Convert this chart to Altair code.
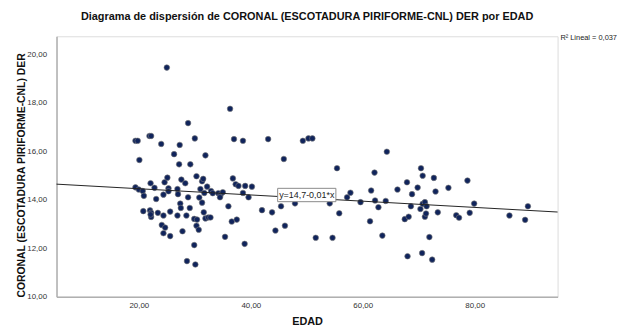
import altair as alt
import pandas as pd

# ---- data ----
edad = [
    25.0, 36.3, 28.8, 19.4, 19.8, 21.9, 22.2, 24.0, 27.3, 30.0, 37.0, 26.3, 31.9, 20.1, 27.2, 29.2,
    19.4, 20.0, 20.7, 20.9, 22.1, 22.8, 23.1, 24.4, 24.6, 25.1, 25.3, 25.3, 26.9, 27.0, 27.6, 28.3,
    27.4, 27.5, 28.8, 29.1, 30.3, 31.3, 31.5, 31.0, 31.7, 30.8, 31.3, 32.2, 32.9, 33.2, 34.2, 34.6,
    35.0, 34.5, 36.8, 37.3, 36.0, 36.6, 37.5, 20.8, 22.0, 22.2, 22.2, 22.1, 23.4, 24.4, 25.6, 26.9,
    28.5, 29.9, 30.4, 31.6, 31.9, 32.4, 32.8, 24.1, 24.7, 24.4, 25.6, 27.8, 30.3, 30.7, 35.4, 29.9,
    28.6, 30.1,
    38.6, 43.1, 49.3, 50.3, 51.0, 64.3, 45.9, 55.4, 62.1, 70.4, 70.7, 67.9, 37.8, 39.0, 40.2, 38.6,
    39.6, 38.9, 42.0, 43.8, 45.4, 47.9, 44.4, 46.1, 54.1, 55.8, 51.6, 54.6, 57.2, 57.8, 59.6, 61.5,
    62.2, 62.8, 64.1, 61.3, 63.5, 66.2, 68.8, 69.8, 68.6, 67.5, 68.2, 70.3, 70.7, 71.1, 71.1, 68.0,
    70.6,
    72.7, 73.0, 75.3, 78.7, 79.9, 89.5, 71.4, 71.3, 73.4, 76.7, 77.2, 79.1, 86.2, 89.0, 71.9, 72.4,
]
coronal = [
    19.45, 17.75, 17.16, 16.43, 16.43, 16.63, 16.63, 16.30, 16.26, 16.53, 16.50, 15.88, 15.83, 15.64, 15.46, 15.46,
    14.51, 14.42, 14.36, 14.16, 14.68, 14.49, 14.03, 14.21, 14.72, 14.91, 14.47, 14.35, 14.44, 14.23, 14.83, 14.68,
    13.84, 13.66, 14.10, 13.66, 14.97, 14.76, 14.86, 14.44, 14.28, 14.09, 13.88, 14.54, 14.36, 14.27, 14.27, 14.20,
    14.31, 14.10, 14.88, 14.64, 13.73, 13.10, 13.18, 13.53, 13.56, 13.46, 13.29, 13.39, 13.46, 13.35, 13.51, 13.35,
    13.35, 13.21, 13.18, 13.48, 13.23, 13.27, 13.27, 12.96, 12.85, 12.62, 12.50, 12.70, 12.93, 12.76, 12.47, 12.13,
    11.47, 11.33,
    16.43, 16.50, 16.43, 16.53, 16.53, 15.98, 15.68, 15.30, 15.12, 15.30, 14.99, 14.72, 14.57, 14.57, 14.54, 14.28,
    14.10, 12.18, 13.57, 13.48, 13.73, 13.85, 12.73, 12.93, 13.85, 13.44, 12.43, 12.43, 14.10, 14.29, 13.90, 14.38,
    13.97, 13.69, 13.95, 13.11, 12.52, 14.42, 14.23, 14.50, 13.73, 13.20, 13.30, 13.62, 13.83, 13.90, 13.30, 11.67,
    11.80,
    14.90, 14.34, 14.49, 14.79, 13.84, 13.73, 13.73, 13.43, 13.48, 13.36, 13.26, 13.46, 13.35, 13.17, 12.46, 11.53,
]

x_ticks = [20, 40, 60, 80]
y_ticks = [10, 12, 14, 16, 18, 20]
x_domain = [5.3, 94.8]
y_domain = [10, 20.74]

eq_label = ["y=14,7-0,01*x"]
eq_x = [50.0]
eq_y = [14.2]
eq_box_x = [44.8]
eq_box_x2 = [55.2]
eq_box_y = [13.92]
eq_box_y2 = [14.47]
r2_label = ["R² Lineal = 0,037"]

title_text = "Diagrama de dispersión de CORONAL (ESCOTADURA PIRIFORME-CNL) DER por EDAD"
y_title = "CORONAL (ESCOTADURA PIRIFORME-CNL) DER"
x_title = "EDAD"

df = pd.DataFrame({"EDAD": edad, "CORONAL": coronal})
eq_df = pd.DataFrame({"label": eq_label, "x": eq_x, "y": eq_y,
                      "x1": eq_box_x, "x2": eq_box_x2, "y1": eq_box_y, "y2": eq_box_y2})
r2_df = pd.DataFrame({"label": r2_label})

FONT = "Liberation Sans"
label_expr = "replace(format(datum.value, '.2f'), '.', ',')"

xs = alt.Scale(domain=x_domain, nice=False, zero=False)
ys = alt.Scale(domain=y_domain, nice=False, zero=False)

x_axis = alt.Axis(title=x_title, values=x_ticks, labelExpr=label_expr, ticks=False, grid=False,
                  domainColor="#b0b0b0", domainWidth=1.5, labelFont=FONT, labelFontSize=8,
                  labelColor="#333333", labelPadding=5, titleFont=FONT, titleFontSize=11,
                  titleFontWeight="bold", titleColor="#111111", titleBaseline="middle", titleY=25)
y_axis = alt.Axis(title=y_title, values=y_ticks, labelExpr=label_expr, ticks=False, grid=False,
                  domainColor="#b0b0b0", domainWidth=1.5, labelFont=FONT, labelFontSize=8,
                  labelColor="#333333", labelPadding=10, titleFont=FONT, titleFontSize=10.5,
                  titleFontWeight="bold", titleColor="#111111", titleAngle=-90,
                  titleBaseline="middle", titleAlign="center", titleX=-35, titleY=140)

base = alt.Chart(df)

points = base.mark_point(filled=True, shape="circle", size=32, fill="#10245c", stroke="#7a7a7a",
                         strokeWidth=0.6, opacity=1).encode(
    x=alt.X("EDAD:Q", scale=xs, axis=x_axis),
    y=alt.Y("CORONAL:Q", scale=ys, axis=y_axis),
)

reg = base.transform_regression("EDAD", "CORONAL", extent=x_domain).mark_line(
    color="#222222", strokeWidth=1).encode(
    x=alt.X("EDAD:Q", scale=xs),
    y=alt.Y("CORONAL:Q", scale=ys),
)

box = alt.Chart(eq_df).mark_rect(fill="white", stroke="#8a8a8a", strokeWidth=1).encode(
    x=alt.X("x1:Q", scale=xs), x2="x2:Q", y=alt.Y("y1:Q", scale=ys), y2="y2:Q")
eq_text = alt.Chart(eq_df).mark_text(font=FONT, fontSize=9, color="#222222").encode(
    x=alt.X("x:Q", scale=xs), y=alt.Y("y:Q", scale=ys), text="label:N")

r2_text = alt.Chart(r2_df).mark_text(font=FONT, fontSize=7.5, color="#222222", align="right",
                                     baseline="middle").encode(
    x=alt.value(566), y=alt.value(2), text="label:N")

chart = alt.layer(points, reg, box, eq_text, r2_text).properties(
    width=506, height=263,
    autosize=alt.AutoSizeParams(type="none"),
    padding={"left": 49, "top": 27, "right": 60, "bottom": 30},
    title=alt.TitleParams(text=title_text, font=FONT, fontSize=11, fontWeight="bold",
                          color="#111111", anchor="middle", offset=12),
).configure_view(stroke=None).configure(background="white")

chart.save("out.html", embed_options={"renderer": "svg", "actions": False})
